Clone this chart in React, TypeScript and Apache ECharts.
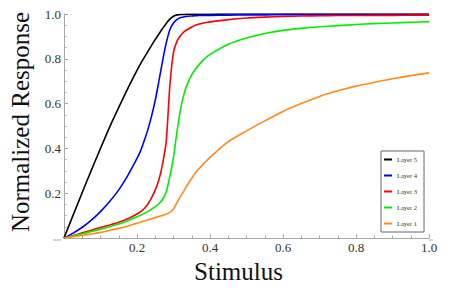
import React, { useEffect, useRef } from "react";
import * as echarts from "echarts";

const stimulus = [
  0, 0.025, 0.05, 0.075, 0.1, 0.125, 0.15, 0.175, 0.2,
  0.21, 0.22, 0.23, 0.24, 0.25, 0.26, 0.27, 0.28, 0.29, 0.3,
  0.31, 0.32, 0.33, 0.34, 0.35, 0.36, 0.37, 0.38, 0.39, 0.4,
  0.45, 0.5, 0.55, 0.6, 0.65, 0.7, 0.75, 0.8, 0.85, 0.9, 0.95, 1.0,
];

const layer5 = [
  0, 0.102, 0.203, 0.303, 0.4, 0.495, 0.583, 0.668, 0.748,
  0.778, 0.806, 0.833, 0.86, 0.886, 0.911, 0.935, 0.958, 0.977, 0.99,
  0.996, 0.998, 0.998, 0.999, 0.999, 0.999, 0.999, 0.999, 0.999, 0.999,
  1, 1, 1, 1, 1, 1, 1, 1, 1, 1, 1, 1,
];
const layer4 = [
  0, 0.022, 0.048, 0.08, 0.118, 0.163, 0.215, 0.28, 0.355,
  0.39, 0.435, 0.485, 0.545, 0.615, 0.7, 0.79, 0.87, 0.93, 0.96,
  0.976, 0.984, 0.988, 0.99, 0.991, 0.992, 0.993, 0.993, 0.994, 0.994,
  0.995, 0.996, 0.996, 0.997, 0.997, 0.997, 0.998, 0.998, 0.998, 0.998, 0.998, 0.998,
];
const layer3 = [
  0, 0.011, 0.023, 0.035, 0.047, 0.058, 0.07, 0.086, 0.107,
  0.118, 0.132, 0.152, 0.18, 0.215, 0.26, 0.33, 0.43, 0.68, 0.83,
  0.88, 0.905, 0.922, 0.933, 0.942, 0.95, 0.955, 0.959, 0.962, 0.965,
  0.975, 0.982, 0.986, 0.989, 0.991, 0.992, 0.993, 0.993, 0.994, 0.994, 0.995, 0.995,
];
const layer2 = [
  0, 0.009, 0.019, 0.029, 0.039, 0.05, 0.062, 0.077, 0.095,
  0.102, 0.11, 0.119, 0.129, 0.14, 0.153, 0.172, 0.205, 0.275, 0.36,
  0.48, 0.58, 0.65, 0.695, 0.728, 0.753, 0.774, 0.792, 0.807, 0.82,
  0.865, 0.893, 0.913, 0.927, 0.936, 0.943, 0.948, 0.953, 0.957, 0.96, 0.963, 0.966,
];
const layer1 = [
  0, 0.006, 0.012, 0.018, 0.025, 0.034, 0.043, 0.054, 0.066,
  0.071, 0.076, 0.081, 0.086, 0.091, 0.096, 0.101, 0.106, 0.114, 0.13,
  0.16, 0.188, 0.215, 0.242, 0.267, 0.29, 0.31, 0.327, 0.344, 0.36,
  0.43, 0.478, 0.523, 0.565, 0.6, 0.632, 0.657, 0.678, 0.695, 0.711, 0.725, 0.737,
];

const seriesNames = ["Layer 5", "Layer 4", "Layer 3", "Layer 2", "Layer 1"];
const seriesValues = [layer5, layer4, layer3, layer2, layer1];
const seriesColors = ["#000000", "#0000ff", "#ff0000", "#00ee00", "#ff8a1a"];

const FONT = "'Liberation Serif', 'Times New Roman', serif";

export default function App() {
  const ref = useRef<HTMLDivElement>(null);
  useEffect(() => {
    if (!ref.current) return;
    const chart = echarts.init(ref.current, undefined, { renderer: "svg" });
    const gridLeft = 61;
    const gridTop = 14;
    const gridW = 368;
    const gridH = 226;
    const axisColor = "#a8a8a8";
    chart.setOption({
      animation: false,
      backgroundColor: "#ffffff",
      textStyle: { fontFamily: FONT },
      grid: { left: gridLeft, top: gridTop, width: gridW, height: gridH, containLabel: false },
      legend: {
        data: seriesNames,
        orient: "vertical",
        left: 381,
        top: 151,
        padding: [5, 7, 5, 3],
        itemGap: 9,
        itemWidth: 8,
        itemHeight: 2,
        icon: "rect",
        backgroundColor: "#ffffff",
        borderColor: "#666666",
        borderWidth: 1,
        borderRadius: 0,
        textStyle: { fontFamily: FONT, fontSize: 6.5, color: "#333333" },
      },
      xAxis: {
        type: "value",
        min: 0,
        max: 1,
        interval: 0.2,
        name: "Stimulus",
        nameLocation: "middle",
        nameGap: 21,
        nameTextStyle: { fontFamily: FONT, fontSize: 25, color: "#111111", padding: [0, 16, 0, 0] },
        axisLine: { show: true, lineStyle: { color: axisColor, width: 1 } },
        axisTick: { show: true, inside: true, length: 4, lineStyle: { color: axisColor } },
        minorTick: { show: true, splitNumber: 4, length: 2.5, lineStyle: { color: axisColor } },
        splitLine: { show: false },
        axisLabel: {
          fontFamily: FONT,
          fontSize: 13,
          color: "#333333",
          margin: 3,
          formatter: (v: number) => (v === 0 ? "" : v.toFixed(1)),
        },
      },
      yAxis: {
        type: "value",
        min: 0,
        max: 1,
        interval: 0.2,
        name: "Normalized Response",
        nameLocation: "middle",
        nameGap: 31,
        nameTextStyle: { fontFamily: FONT, fontSize: 25, color: "#111111", padding: [0, 0, 0, 8] },
        axisLine: { show: true, lineStyle: { color: axisColor, width: 1 } },
        axisTick: { show: true, inside: true, length: 4, lineStyle: { color: axisColor } },
        minorTick: { show: true, splitNumber: 4, length: 2.5, lineStyle: { color: axisColor } },
        splitLine: { show: false },
        axisLabel: {
          fontFamily: FONT,
          fontSize: 13,
          color: "#333333",
          margin: 3,
          formatter: (v: number) => (v === 0 ? "" : v.toFixed(1)),
        },
      },
      graphic: [
        {
          type: "line",
          shape: { x1: gridLeft - 8, y1: gridTop + gridH, x2: gridLeft, y2: gridTop + gridH },
          style: { stroke: axisColor, lineWidth: 1 },
          silent: true,
        },
        {
          type: "line",
          shape: { x1: gridLeft + gridW, y1: gridTop + gridH, x2: gridLeft + gridW + 4, y2: gridTop + gridH },
          style: { stroke: axisColor, lineWidth: 1 },
          silent: true,
        },
      ],
      series: seriesNames.map((name, i) => ({
        name,
        type: "line",
        data: stimulus.map((x, j) => [x, seriesValues[i][j]]),
        showSymbol: false,
        smooth: 0.25,
        lineStyle: { color: seriesColors[i], width: 1.6 },
        itemStyle: { color: seriesColors[i] },
        emphasis: { disabled: true },
      })),
    });
    return () => chart.dispose();
  }, []);
  return <div ref={ref} style={{ position: "absolute", left: 0, top: 0, width: 450, height: 289 }} />;
}
